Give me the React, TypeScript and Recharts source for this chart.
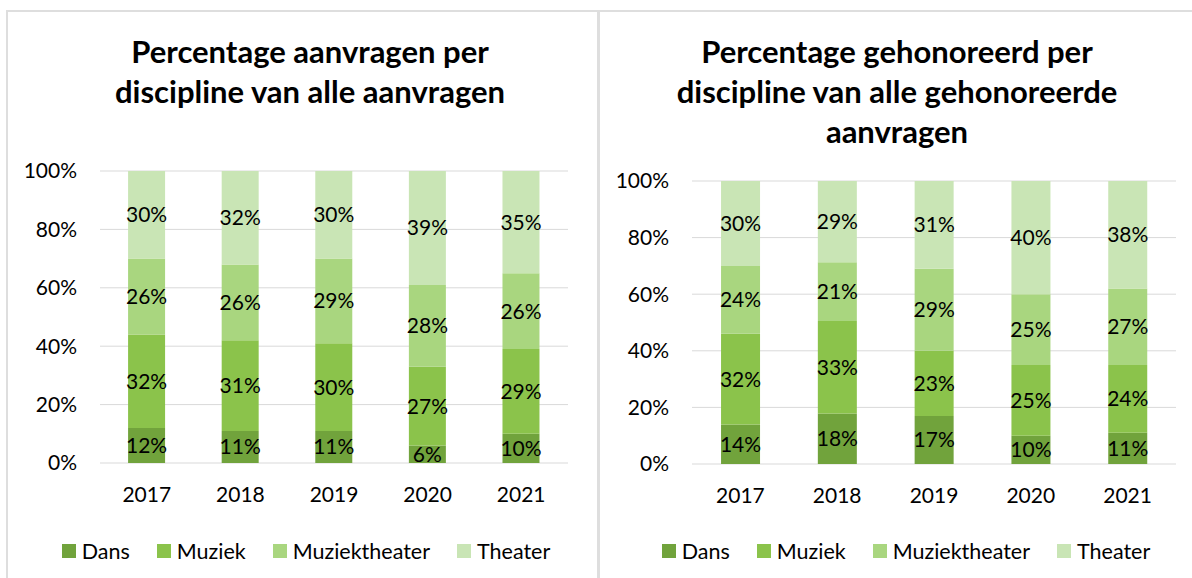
import React from 'react';
import { BarChart, Bar, XAxis, YAxis, CartesianGrid, LabelList, Legend } from 'recharts';

const years = ['2017', '2018', '2019', '2020', '2021'];
const series = ['Dans', 'Muziek', 'Muziektheater', 'Theater'];
const colors = ['#71A33C', '#8BC34B', '#A9D67F', '#C9E5B5'];

const aanvragenDans = [12, 11, 11, 6, 10];
const aanvragenMuziek = [32, 31, 30, 27, 29];
const aanvragenMuziektheater = [26, 26, 29, 28, 26];
const aanvragenTheater = [30, 32, 30, 39, 35];

const gehonoreerdDans = [14, 18, 17, 10, 11];
const gehonoreerdMuziek = [32, 33, 23, 25, 24];
const gehonoreerdMuziektheater = [24, 21, 29, 25, 27];
const gehonoreerdTheater = [30, 29, 31, 40, 38];

const yTicks = [0, 0.2, 0.4, 0.6, 0.8, 1];

const leftTitle = ['Percentage aanvragen per', 'discipline van alle aanvragen'];
const rightTitle = ['Percentage gehonoreerd per', 'discipline van alle gehonoreerde', 'aanvragen'];

const buildData = (d: number[], m: number[], mt: number[], t: number[]) =>
  years.map((y, i) => ({ year: y, Dans: d[i], Muziek: m[i], Muziektheater: mt[i], Theater: t[i] }));

const leftData = buildData(aanvragenDans, aanvragenMuziek, aanvragenMuziektheater, aanvragenTheater);
const rightData = buildData(gehonoreerdDans, gehonoreerdMuziek, gehonoreerdMuziektheater, gehonoreerdTheater);

const FONT = 'Lato, "Noto Sans", sans-serif';
const TEXT = '#000000';
const GRID = '#d9d9d9';
const FS = 21;

const LegendContent = () => (
  <div
    style={{
      display: 'flex',
      justifyContent: 'center',
      alignItems: 'center',
      height: 24,
      fontFamily: FONT,
      fontSize: 21.5,
      color: TEXT,
      whiteSpace: 'nowrap',
    }}
  >
    {series.map((s, i) => (
      <div key={s} style={{ display: 'flex', alignItems: 'center', marginLeft: i === 0 ? 0 : 27 }}>
        <div style={{ width: 14, height: 14, background: colors[i], marginRight: 6 }} />
        <span>{s}</span>
      </div>
    ))}
  </div>
);

type PanelProps = {
  data: any[];
  width: number;
  height: number;
  margin: { top: number; right: number; bottom: number; left: number };
  legendWidth: number;
};

const Panel = ({ data, width, height, margin, legendWidth }: PanelProps) => (
  <BarChart
    width={width}
    height={height}
    data={data}
    margin={margin}
    stackOffset="expand"
    barCategoryGap="30%"
  >
    <CartesianGrid vertical={false} stroke={GRID} strokeWidth={1} />
    <XAxis
      dataKey="year"
      axisLine={false}
      tickLine={false}
      tickSize={0}
      tickMargin={24}
      height={30}
      tick={{ fill: TEXT, fontSize: FS, fontFamily: FONT }}
    />
    <YAxis
      domain={[0, 1]}
      ticks={yTicks}
      axisLine={false}
      tickLine={false}
      tickSize={0}
      tickMargin={23}
      width={80}
      tickFormatter={(v: number) => `${Math.round(v * 100)}%`}
      tick={{ fill: TEXT, fontSize: FS, fontFamily: FONT }}
    />
    <Legend
      content={() => <LegendContent />}
      wrapperStyle={{ top: 539, bottom: 'auto', left: 0, width: legendWidth, height: 24 }}
    />
    {series.map((s, i) => (
      <Bar key={s} dataKey={s} stackId="a" fill={colors[i]} isAnimationActive={false}>
        <LabelList
          dataKey={s}
          position="center"
          formatter={(v: any) => `${v}%`}
          style={{ fill: TEXT, fontSize: FS, fontFamily: FONT }}
        />
      </Bar>
    ))}
  </BarChart>
);

const Title = ({ lines, center, top }: { lines: string[]; center: number; top: number }) => (
  <div
    style={{
      position: 'absolute',
      left: center - 300,
      width: 600,
      top,
      textAlign: 'center',
      fontFamily: FONT,
      fontWeight: 700,
      fontSize: 31,
      lineHeight: '40px',
      color: TEXT,
    }}
  >
    {lines.map((l) => (
      <div key={l}>{l}</div>
    ))}
  </div>
);

export default function App() {
  return (
    <div
      style={{
        position: 'absolute',
        left: 0,
        top: 0,
        width: 1192,
        height: 578,
        background: '#ffffff',
        overflow: 'hidden',
      }}
    >
      <div style={{ position: 'absolute', left: 6, top: 10, width: 1186, height: 2, background: '#dedede' }} />
      <div style={{ position: 'absolute', left: 6, top: 10, width: 2, height: 568, background: '#dedede' }} />
      <div style={{ position: 'absolute', left: 597, top: 10, width: 3, height: 568, background: '#dedede' }} />

      <div style={{ position: 'absolute', left: 0, top: 0 }}>
        <Panel
          data={leftData}
          width={598}
          height={578}
          margin={{ top: 171, right: 30, bottom: 61, left: 20 }}
          legendWidth={612}
        />
      </div>
      <div style={{ position: 'absolute', left: 600, top: 0 }}>
        <Panel
          data={rightData}
          width={592}
          height={578}
          margin={{ top: 181, right: 16, bottom: 60, left: 12 }}
          legendWidth={612}
        />
      </div>

      <Title lines={leftTitle} center={310} top={31} />
      <Title lines={rightTitle} center={897} top={31} />
    </div>
  );
}
